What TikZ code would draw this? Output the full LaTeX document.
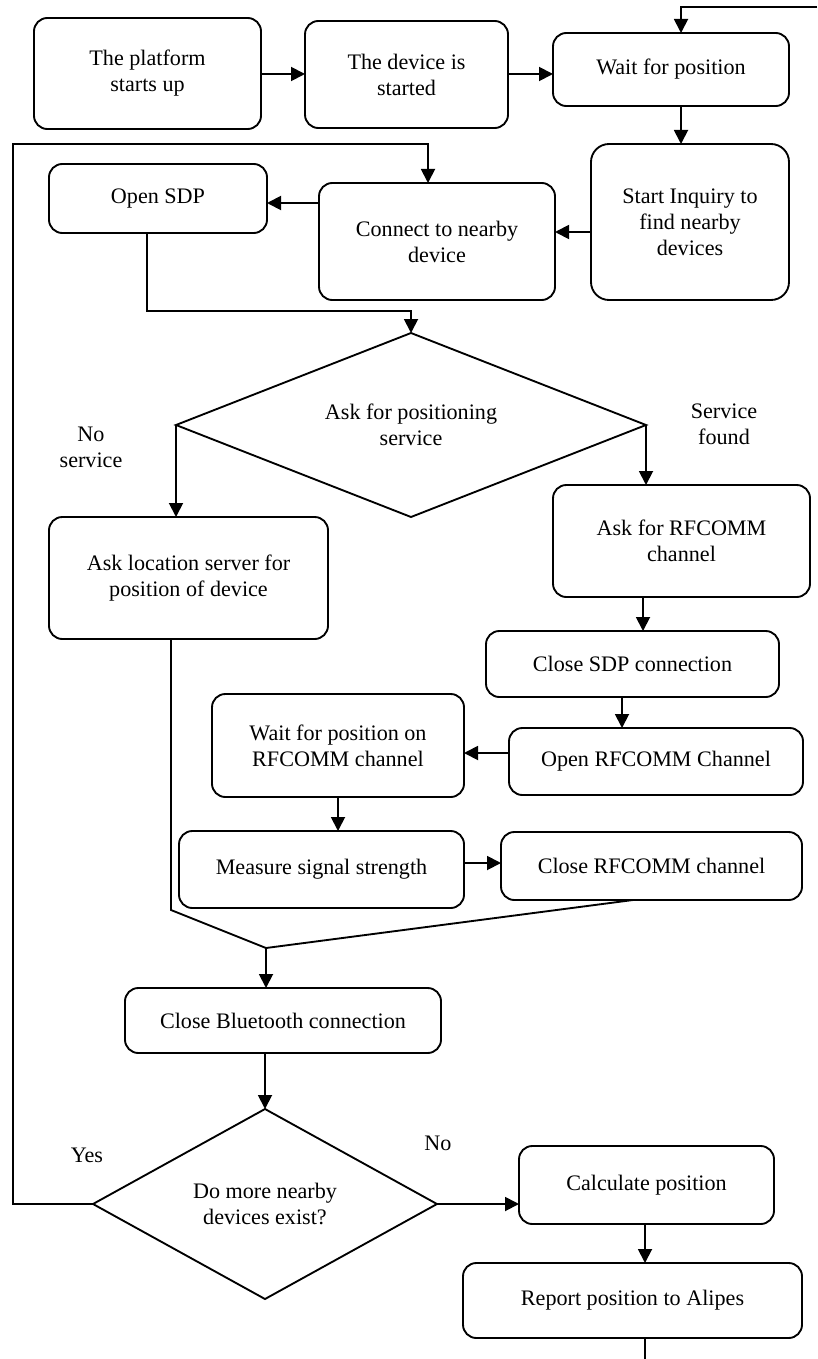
\documentclass[tikz,border=0pt]{standalone}
\usepackage{fontspec}
\setmainfont{Liberation Serif}
\usetikzlibrary{shapes.geometric,arrows.meta}
\tikzset{
  txt/.style={font=\fontsize{16.6}{19.5}\selectfont},
  box/.style={draw,line width=1.4pt,rounded corners=10pt,align=center,inner sep=0pt,outer sep=0pt,txt},
  dia/.style={draw,diamond,line width=1.4pt,align=center,inner sep=0pt,outer sep=0pt,txt},
  lbl/.style={align=center,inner sep=0pt,txt},
  arr/.style={line width=1.4pt,-{Triangle[length=10.5pt,width=10.5pt]}},
  ln/.style={line width=1.4pt}
}
\newcommand\mybox[7][]{\node[box,#1,minimum width={(#5-#3)*0.75pt},minimum height={(#6-#4)*0.75pt}] (#2) at ({(#3+#5)/2},{(#4+#6)/2}) {#7};}
\begin{document}
\begin{tikzpicture}[x=0.75pt,y=-0.75pt]
\fill[white] (0,0) rectangle (817,1359);
\useasboundingbox (0,0) rectangle (817,1359);
% boxes
\mybox{n1}{34}{18}{261}{129}{The platform\\starts up}
\mybox{n2}{305}{21}{508}{128}{The device is\\started}
\mybox{n3}{553}{33}{789}{106}{Wait for position}
\mybox[rounded corners=13.5pt]{n4}{591}{144}{789}{300}{Start Inquiry to\\find nearby\\devices}
\mybox{n5}{319}{183}{555}{300}{Connect to nearby\\device}
\mybox{n6}{49}{164}{267}{233}{Open SDP}
\node[dia,aspect=2.55,minimum width={470*0.75pt},minimum height={184*0.75pt}] (d1) at (411,425) {Ask for positioning\\service};
\mybox{n7}{49}{517}{328}{639}{Ask location server for\\position of device}
\mybox{n8}{553}{485}{810}{597}{Ask for RFCOMM\\channel}
\mybox{n9}{486}{631}{779}{697}{Close SDP connection}
\mybox{n10}{509}{728}{803}{795}{Open RFCOMM Channel}
\mybox{n11}{212}{694}{464}{797}{Wait for position on\\RFCOMM channel}
\mybox{n12}{179}{831}{464}{908}{Measure signal strength}
\mybox{n13}{501}{832}{802}{900}{Close RFCOMM channel}
\mybox{n14}{125}{988}{441}{1053}{Close Bluetooth connection}
\node[dia,aspect=1.81,minimum width={344*0.75pt},minimum height={190*0.75pt}] (d2) at (265,1204) {Do more nearby\\devices exist?};
\mybox{n15}{519}{1146}{774}{1224}{Calculate position}
\mybox{n16}{463}{1263}{802}{1338}{Report position to Alipes}
% labels
\node[lbl] (l1) at (91,447) {No\\service};
\node[lbl] (l2) at (724,424) {Service\\found};
\node[lbl] (l3) at (87,1155) {Yes};
\node[lbl] (l4) at (438,1143) {No};
% connectors
\coordinate (tr) at (817,7);
\coordinate (lp) at (13,144);
\coordinate (mg) at (266,948);
\coordinate (bt) at (645,1359);
\draw[arr] (n1.east |- 0,74) -- (n2.west |- 0,74);
\draw[arr] (n2.east |- 0,74) -- (n3.west |- 0,74);
\draw[arr] (tr) -| (n3.north -| 681,0);
\draw[arr] (n3.south -| 681,0) -- (n4.north -| 681,0);
\draw[arr] (n4.west |- 0,232) -- (n5.east |- 0,232);
\draw[arr] (n5.west |- 0,203) -- (n6.east |- 0,203);
\draw[arr] (n6.south -| 147,0) |- (d1.north |- 0,311) -- (d1.north);
\draw[arr] (d1.west) -- (d1.west |- n7.north);
\draw[arr] (d1.east) -- (d1.east |- n8.north);
\draw[arr] (n8.south -| 643,0) -- (n9.north -| 643,0);
\draw[arr] (n9.south -| 622,0) -- (n10.north -| 622,0);
\draw[arr] (n10.west |- 0,753) -- (n11.east |- 0,753);
\draw[arr] (n11.south -| 338,0) -- (n12.north -| 338,0);
\draw[arr] (n12.east |- 0,863) -- (n13.west |- 0,863);
\draw[ln] (n7.south -| 171,0) -- ++(0,271) -- (mg);
\draw[ln] (n13.south -| 633,0) -- (mg);
\draw[arr] (mg) -- (n14.north -| mg);
\draw[arr] (n14.south -| d2.north) -- (d2.north);
\draw[arr] (d2.west) -| (lp) -| (n5.north -| 428,0);
\draw[arr] (d2.east) -- (n15.west |- d2.east);
\draw[arr] (n15.south -| 645,0) -- (n16.north -| 645,0);
\draw[ln] (n16.south -| bt) -- (bt);
\end{tikzpicture}
\end{document}
